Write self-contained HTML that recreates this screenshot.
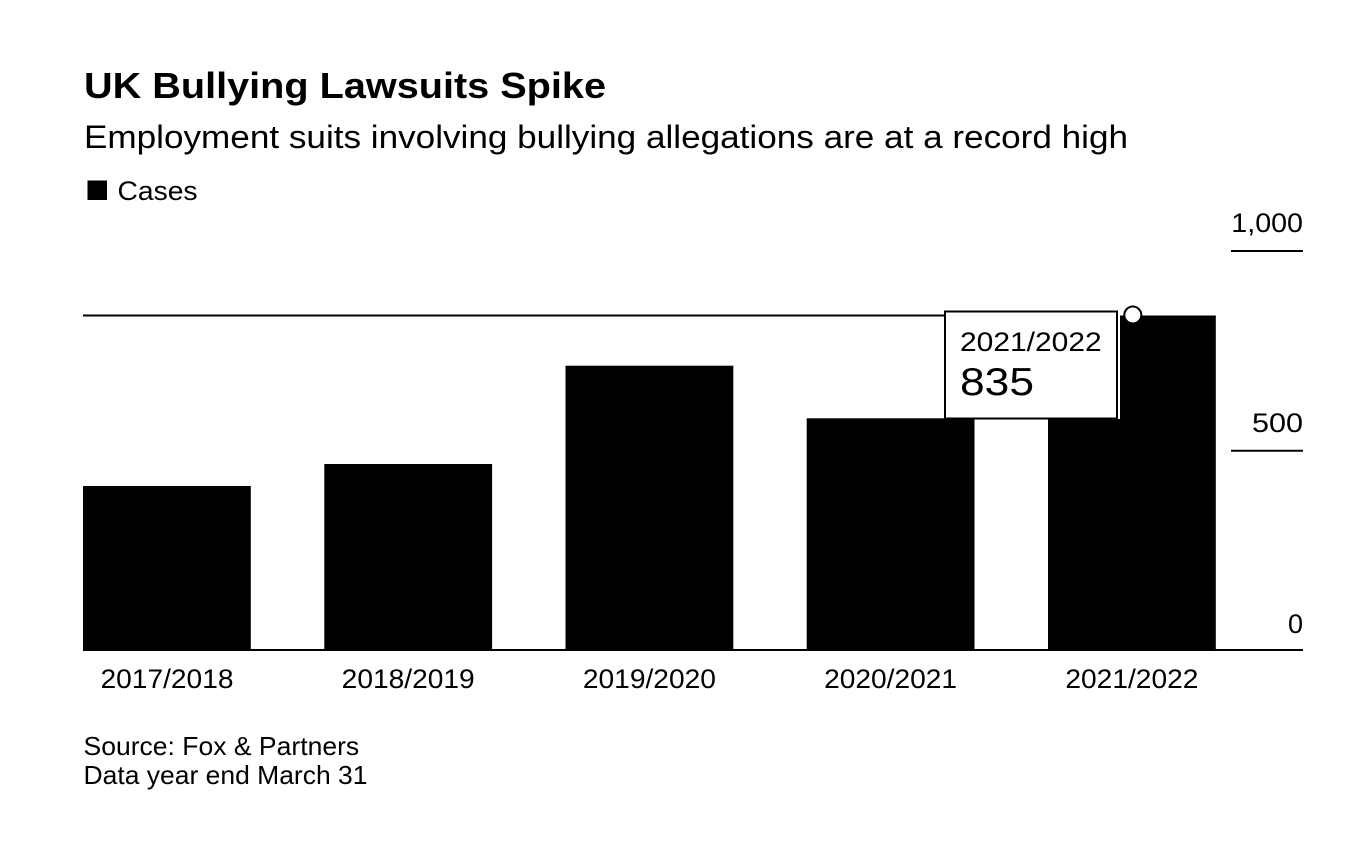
<!DOCTYPE html>
<html>
<head>
<meta charset="utf-8">
<style>
  html, body { margin: 0; padding: 0; background: #ffffff; }
  body { width: 1362px; height: 858px; overflow: hidden; }
  svg { display: block; }
  text { font-family: "Liberation Sans", "DejaVu Sans", sans-serif; fill: #000; }
</style>
</head>
<body>
<svg width="1362" height="858" viewBox="0 0 1362 858" xmlns="http://www.w3.org/2000/svg">
  <rect x="0" y="0" width="1362" height="858" fill="#ffffff"/>

  <!-- Title -->
  <text x="84" y="98" font-size="36" font-weight="bold" textLength="522" lengthAdjust="spacingAndGlyphs">UK Bullying Lawsuits Spike</text>
  <!-- Subtitle -->
  <text x="84" y="148" font-size="32" textLength="1044" lengthAdjust="spacingAndGlyphs">Employment suits involving bullying allegations are at a record high</text>

  <!-- Legend -->
  <rect x="87.5" y="180.5" width="19.5" height="19.5" fill="#000"/>
  <text x="117.5" y="200" font-size="27" textLength="80" lengthAdjust="spacingAndGlyphs">Cases</text>

  <!-- Y axis ticks and labels -->
  <text x="1303" y="232" font-size="27" text-anchor="end" textLength="71.7" lengthAdjust="spacingAndGlyphs">1,000</text>
  <line x1="1231" y1="251" x2="1303" y2="251" stroke="#000" stroke-width="2"/>
  <text x="1303" y="432" font-size="27" text-anchor="end" textLength="51" lengthAdjust="spacingAndGlyphs">500</text>
  <line x1="1231" y1="450.7" x2="1303" y2="450.7" stroke="#000" stroke-width="2"/>
  <text x="1303" y="633" font-size="27" text-anchor="end">0</text>

  <!-- Crosshair line -->
  <line x1="83" y1="315.5" x2="1048" y2="315.5" stroke="#000" stroke-width="2"/>

  <!-- Bars -->
  <rect x="83" y="486" width="167.8" height="164" fill="#000"/>
  <rect x="324.3" y="464" width="167.8" height="186" fill="#000"/>
  <rect x="565.5" y="365.7" width="167.8" height="284.3" fill="#000"/>
  <rect x="806.7" y="418.3" width="167.8" height="231.7" fill="#000"/>
  <rect x="1048" y="315.5" width="167.8" height="334.5" fill="#000"/>

  <!-- Baseline -->
  <line x1="83" y1="650" x2="1303" y2="650" stroke="#000" stroke-width="2"/>

  <!-- X labels -->
  <text x="167" y="688" font-size="27" text-anchor="middle" textLength="133" lengthAdjust="spacingAndGlyphs">2017/2018</text>
  <text x="408.2" y="688" font-size="27" text-anchor="middle" textLength="133" lengthAdjust="spacingAndGlyphs">2018/2019</text>
  <text x="649.4" y="688" font-size="27" text-anchor="middle" textLength="133" lengthAdjust="spacingAndGlyphs">2019/2020</text>
  <text x="890.6" y="688" font-size="27" text-anchor="middle" textLength="133" lengthAdjust="spacingAndGlyphs">2020/2021</text>
  <text x="1131.9" y="688" font-size="27" text-anchor="middle" textLength="133" lengthAdjust="spacingAndGlyphs">2021/2022</text>

  <!-- Tooltip -->
  <rect x="945" y="311.5" width="172" height="107" fill="#ffffff" stroke="#000" stroke-width="2"/>
  <line x1="1119" y1="311" x2="1119" y2="419" stroke="#ffffff" stroke-width="2"/>
  <text x="960" y="351" font-size="27" textLength="141.7" lengthAdjust="spacingAndGlyphs">2021/2022</text>
  <text x="960" y="395" font-size="39" textLength="74" lengthAdjust="spacingAndGlyphs">835</text>

  <!-- Hover marker -->
  <circle cx="1132.8" cy="315" r="8.5" fill="#ffffff" stroke="#000" stroke-width="2"/>

  <!-- Source -->
  <text x="83.5" y="755" font-size="26" textLength="275.7" lengthAdjust="spacingAndGlyphs">Source: Fox &amp; Partners</text>
  <text x="83.5" y="784" font-size="26" textLength="284" lengthAdjust="spacingAndGlyphs">Data year end March 31</text>
</svg>
</body>
</html>
